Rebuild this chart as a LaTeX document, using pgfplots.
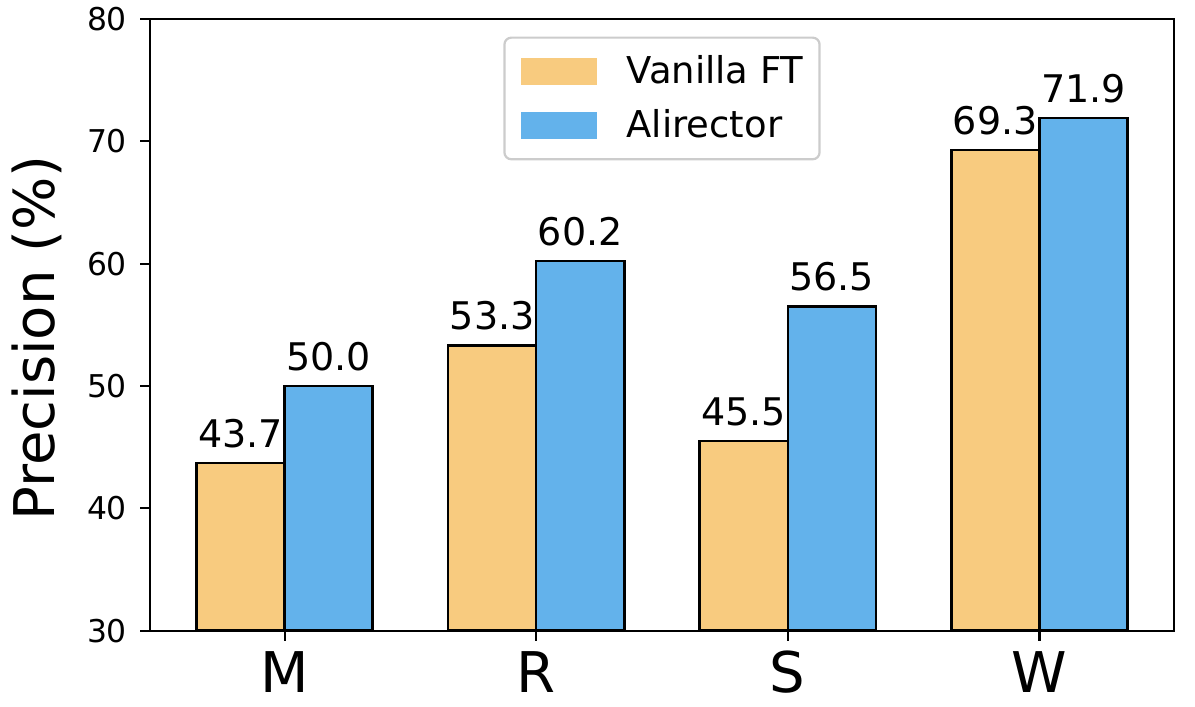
\documentclass[border=0pt]{standalone}
\usepackage{pgfplots}
\pgfplotsset{compat=1.18}
\usepackage{fontspec}
\setmainfont{DejaVu Sans}
\definecolor{vorange}{HTML}{F8CB7F}
\definecolor{ablue}{HTML}{63B2EB}
\begin{document}
\begin{tikzpicture}
\begin{axis}[
  scale only axis, width=368.6bp, height=220.2bp,
  xmin=-0.535, xmax=3.535, ymin=30, ymax=80,
  ytick={30,40,...,80}, xtick={0,1,2,3}, xticklabels={M,R,S,W},
  tick pos=left, tick align=outside, major tick length=3.6bp,
  every tick/.style={black, line width=0.8bp},
  axis line style={line width=0.8bp},
  /pgf/number format/assume math mode=true,
  yticklabel style={font=\fontsize{11.3bp}{13bp}\selectfont, anchor=east, inner sep=0pt, xshift=-4.5bp},
  xticklabel style={font=\fontsize{20.2bp}{24bp}\selectfont, anchor=north, inner sep=0pt, yshift=-3.6bp},
  ylabel={Precision (\%)},
  ylabel style={font=\fontsize{20.2bp}{24bp}\selectfont, at={(axis description cs:-0.110,0.4785)}, anchor=center, inner sep=0pt},
  ybar, bar width=0.35,
  nodes near coords={\pgfmathprintnumber[fixed,fixed zerofill,precision=1]{\pgfplotspointmeta}},
  every node near coord/.append style={font=\fontsize{13.7bp}{16bp}\selectfont, anchor=south, inner sep=0pt, yshift=5bp, black},
  every axis plot post/.append style={legend image code/.code={\path[##1, draw=none, sharp corners] (0bp,-4.8bp) rectangle (27.4bp,4.8bp);}},
  legend cell align=left,
  legend style={at={(0.5,1)}, anchor=north, yshift=-6.3bp, draw=black!20, rounded corners=2.5bp, line width=0.8bp, fill=white,
    font=\fontsize{13.3bp}{16bp}\selectfont, inner xsep=5.8bp, inner ysep=6.3bp, row sep=8bp, column sep=10.8bp, nodes={inner sep=0pt}},
]
\addplot[fill=vorange, draw=black, line width=0.9bp, bar shift=-0.175] coordinates {(0,43.7) (1,53.3) (2,45.5) (3,69.3)};
\addplot[fill=ablue, draw=black, line width=0.9bp, bar shift=0.175] coordinates {(0,50.0) (1,60.2) (2,56.5) (3,71.9)};
\legend{Vanilla FT, Alirector}
\end{axis}
\path[use as bounding box] ([xshift=-54bp,yshift=-27.1bp]current axis.south west) rectangle ([xshift=7.56bp,yshift=6.84bp]current axis.north east);
\end{tikzpicture}
\end{document}
